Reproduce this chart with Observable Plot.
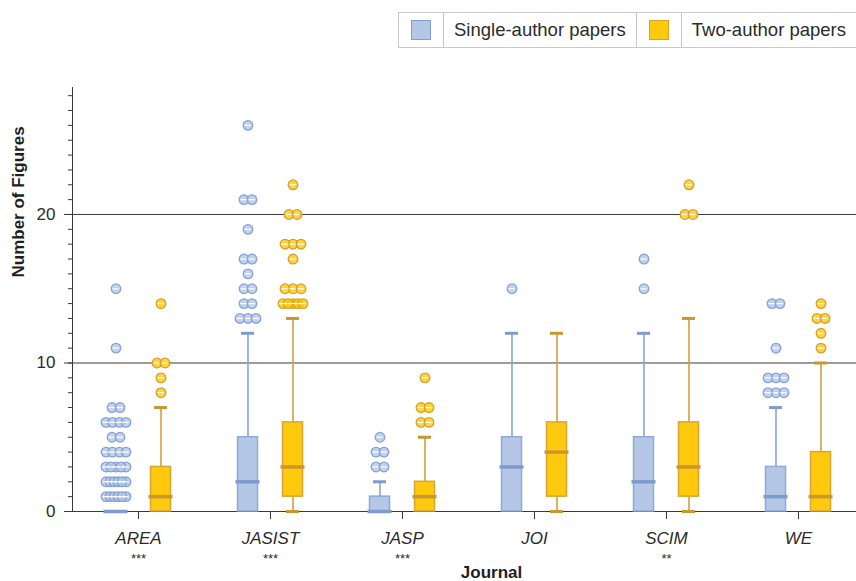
<!DOCTYPE html>
<html><head><meta charset="utf-8">
<script src="https://cdn.jsdelivr.net/npm/d3@7"></script>
<script src="https://cdn.jsdelivr.net/npm/@observablehq/plot@0.6"></script>
<style>
html,body{margin:0;padding:0;background:#fff;overflow:hidden;font-family:"Liberation Sans",Arial,Helvetica,sans-serif;}
#legend{position:relative;height:50px;width:856px;}
#legend .lg{position:absolute;left:398px;top:12px;height:34px;display:flex;border:1px solid #c9c9c9;background:#fff;}
#legend .sw{width:44px;display:flex;align-items:center;justify-content:center;border-right:1px solid #c9c9c9;}
#legend .sw span{display:block;width:20px;height:20px;}
#legend .lb{display:flex;align-items:center;padding:0 10px;font-size:18.5px;color:#2b2b2b;border-right:1px solid #c9c9c9;white-space:nowrap;}
</style></head>
<body>
<div id="legend"></div>
<div id="chart"></div>
<script>
// ---------- data ----------
const journals = ["AREA", "JASIST", "JASP", "JOI", "SCIM", "WE"];
const stars = ["***", "***", "***", "", "**", ""];
const seriesNames = ["Single-author papers", "Two-author papers"];

// Single-author box statistics
const singleQ1  = [0, 0, 0, 0, 0, 0];
const singleMed = [0, 2, 0, 3, 2, 1];
const singleQ3  = [0, 5, 1, 5, 5, 3];
const singleLo  = [0, 0, 0, 0, 0, 0];
const singleHi  = [0, 12, 2, 12, 12, 7];
// Two-author box statistics
const twoQ1  = [0, 1, 0, 1, 1, 0];
const twoMed = [1, 3, 1, 4, 3, 1];
const twoQ3  = [3, 6, 2, 6, 6, 4];
const twoLo  = [0, 0, 0, 0, 0, 0];
const twoHi  = [7, 13, 5, 12, 13, 10];

// Outliers (one entry per visible point)
const singleOutliers = [
  [15, 11, 7, 7, 6, 6, 6, 6, 5, 5, 4, 4, 4, 4, 3, 3, 3, 3, 3, 2, 2, 2, 2, 2, 2, 1, 1, 1, 1, 1, 1],
  [26, 21, 21, 19, 17, 17, 16, 15, 15, 14, 14, 13, 13, 13],
  [5, 4, 4, 3, 3],
  [15],
  [17, 15],
  [14, 14, 11, 9, 9, 9, 8, 8, 8]
];
const twoOutliers = [
  [14, 10, 10, 9, 8],
  [22, 20, 20, 18, 18, 18, 17, 15, 15, 15, 14, 14, 14, 14, 14],
  [9, 7, 7, 6, 6],
  [],
  [22, 20, 20],
  [14, 13, 13, 12, 11]
];

// ---------- styles ----------
const styles = [
  {shift: -22.5, fill: "#b4c7e7", boxStroke: "#8ea9d8", med: "#7f9bcd", whisker: "#8aa5d5", dotStroke: "#86a3d6"},
  {shift: 22.5, fill: "#ffc90e", boxStroke: "#d6a532", med: "#c8982e", whisker: "#d0a03c", dotStroke: "#d6a224"}
];

// legend
const lg = document.createElement("div"); lg.className = "lg";
seriesNames.forEach((n, i) => {
  const sw = document.createElement("div"); sw.className = "sw";
  const sp = document.createElement("span");
  sp.style.background = styles[i].fill; sp.style.border = "1.5px solid " + (i ? "#d9a520" : "#7f9fd3");
  sp.style.boxSizing = "border-box";
  sw.appendChild(sp); lg.appendChild(sw);
  const lb = document.createElement("div"); lb.className = "lb"; lb.textContent = n;
  if (i === 1) lb.style.paddingRight = "30px";
  lg.appendChild(lb);
});
document.getElementById("legend").appendChild(lg);

// tables
function boxRows(q1, med, q3, lo, hi) {
  return journals.map((j, i) => ({journal: j, q1: q1[i], med: med[i], q3: q3[i], lo: lo[i], hi: hi[i]}));
}
const boxes = [
  boxRows(singleQ1, singleMed, singleQ3, singleLo, singleHi),
  boxRows(twoQ1, twoMed, twoQ3, twoLo, twoHi)
];
function outlierRows(lists) {
  const rows = [];
  lists.forEach((vals, ji) => {
    const groups = d3.group(vals, v => v);
    for (const [v, arr] of groups) {
      const n = arr.length;
      const step = n > 1 ? Math.min(8, 20 / (n - 1)) : 0;
      arr.forEach((_, k) => rows.push({journal: journals[ji], value: v, jit: Math.round((k - (n - 1) / 2) * step * 2) / 2}));
    }
  });
  return rows;
}
const outliers = [outlierRows(singleOutliers), outlierRows(twoOutliers)];

const yTop = 28.55;
const marks = [];
// grid + axis lines
marks.push(Plot.ruleY([10, 20], {stroke: "#3a3a3a", strokeWidth: 1}));
marks.push(Plot.ruleY([0], {stroke: "#3a3a3a", strokeWidth: 1}));
marks.push(Plot.ruleX([journals[0]], {x: d => d, y1: 0, y2: yTop, dx: -66, stroke: "#3a3a3a", strokeWidth: 1}));
marks.push(Plot.axisY({ticks: d3.range(0, 29), tickSize: 4, tickFormat: () => "", label: null, stroke: "#3a3a3a"}));
marks.push(Plot.axisY({ticks: [0, 10, 20], tickSize: 8, tickPadding: 9, label: null, fontSize: 17, stroke: "#3a3a3a", color: "#2b2b2b"}));
marks.push(Plot.axisX({tickSize: 8, tickPadding: 12, label: null, fontSize: 17, fontStyle: "italic", stroke: "#3a3a3a", color: "#2b2b2b"}));
marks.push(Plot.text(journals, {x: d => d, text: (d, i) => stars[i], frameAnchor: "bottom", lineAnchor: "top", dy: 42, fontSize: 13, fill: "#2b2b2b"}));
marks.push(Plot.text(["Journal"], {frameAnchor: "bottom", text: d => d, lineAnchor: "middle", dy: 61, dx: 27, fontSize: 17, fontWeight: "bold", fill: "#1f1f1f"}));
marks.push(Plot.text(["Number of Figures"], {frameAnchor: "left", text: d => d, rotate: -90, dx: -54, dy: -22, fontSize: 17, fontWeight: "bold", fill: "#1f1f1f"}));

styles.forEach((s, si) => {
  const rows = boxes[si];
  marks.push(Plot.ruleX(rows.filter(r => r.hi > r.q3), {x: "journal", y1: "q3", y2: "hi", dx: s.shift, stroke: s.whisker, strokeWidth: 1.6}));
  marks.push(Plot.ruleX(rows.filter(r => r.q1 > r.lo), {x: "journal", y1: "lo", y2: "q1", dx: s.shift, stroke: s.whisker, strokeWidth: 1.6}));
  marks.push(Plot.barY(rows, {x: "journal", y1: "q1", y2: "q3", insetLeft: 56, insetRight: 56, dx: s.shift, fill: s.fill, stroke: s.boxStroke, strokeWidth: 1.5}));
  marks.push(Plot.tickY(rows.filter(r => r.hi > r.q3), {x: "journal", y: "hi", insetLeft: 59.5, insetRight: 59.5, dx: s.shift, stroke: s.med, strokeWidth: 3}));
  marks.push(Plot.tickY(rows.filter(r => r.q1 > r.lo), {x: "journal", y: "lo", insetLeft: 59.5, insetRight: 59.5, dx: s.shift, stroke: s.med, strokeWidth: 3}));
  marks.push(Plot.tickY(rows, {x: "journal", y: "med", insetLeft: 54, insetRight: 54, dx: s.shift, stroke: s.med, strokeWidth: 3.5}));
  const byOff = d3.group(outliers[si], r => r.jit);
  for (const [off, rs] of byOff) {
    marks.push(Plot.dot(rs, {x: "journal", y: "value", dx: s.shift + off, r: 4.8, fill: s.fill, fillOpacity: 0.8, stroke: s.dotStroke, strokeWidth: 1.3}));
  }
  for (const [off, rs] of byOff) {
    marks.push(Plot.tickY(rs, {x: "journal", y: "value", dx: s.shift + off, insetLeft: 63, insetRight: 63, stroke: "#ffffff", strokeWidth: 1.2}));
  }
});

const chart = Plot.plot({
  width: 856,
  height: 531,
  marginLeft: 72,
  marginRight: 0,
  marginTop: 37,
  marginBottom: 70,
  style: {fontFamily: '"Liberation Sans", Arial, Helvetica, sans-serif', background: "#fff", color: "#2b2b2b"},
  x: {domain: journals, range: [72, 864], padding: 0},
  y: {domain: [0, yTop]},
  marks
});
document.getElementById("chart").appendChild(chart);
</script>
</body></html>
